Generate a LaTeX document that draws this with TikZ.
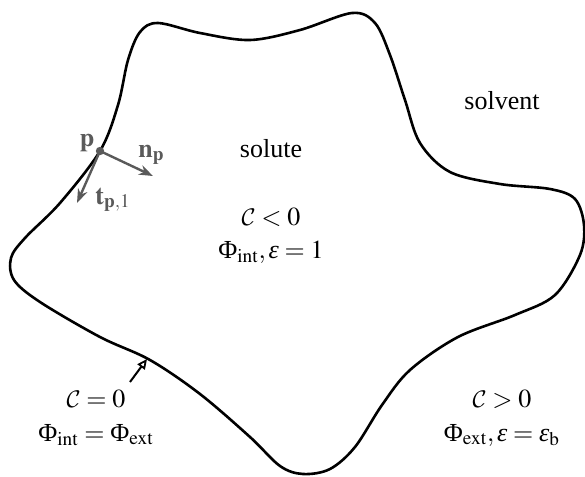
\documentclass[tikz,border=0pt]{standalone}
\usepackage{mathptmx}
\usepackage[no-math]{fontspec}
\setmainfont{Liberation Serif}
\DeclareMathAlphabet{\mathcal}{OMS}{cmsy}{m}{n}
\newcommand{\veps}{\mbox{\itshape ε}}
\newcommand{\bigphi}{\mbox{\upshape Φ}}
\usetikzlibrary{arrows.meta}
\definecolor{vecgray}{HTML}{5A5A5A}
\tikzset{
  lbl/.style={anchor=base, inner sep=0pt, font=\fontsize{13}{15.6}\selectfont},
  vlbl/.style={anchor=base west, inner sep=0pt, text=vecgray, font=\fontsize{13}{15.6}\selectfont},
  vecarrow/.style={draw=vecgray, line width=1.2pt, -{Stealth[length=7pt,width=5pt]}},
  boundary/.style={draw=black, line width=1.3pt},
  pointer/.style={draw=black, line width=1pt, -{Triangle[open,length=5pt,width=4.5pt,line width=0.9pt]}}
}
\begin{document}
\begin{tikzpicture}[x=0.5pt,y=-0.5pt]
\useasboundingbox (0,0) rectangle (585,477);
% boundary curve
\draw[boundary] plot[smooth cycle, tension=0.55] coordinates {
(100,151) (118,105) (128,60) (140,32) (158,23) (200,33) (250,40) (300,30)
(352,13) (375,23) (390,55) (405,100) (420,143) (450,172) (500,184) (550,189)
(575,199) (584,225) (580,255) (555,295) (515,315) (458,337) (410,370) (382,405)
(355,447) (330,469) (303,474) (280,466) (250,437) (200,394) (150,360) (100,337)
(40,302) (14,280) (11,258) (25,238) (60,203)};
% point p with normal and tangent
\coordinate (p) at (100,151);
\coordinate (ntip) at (153,176);
\coordinate (ttip) at (77,203);
\draw[vecarrow] (p) -- (ntip);
\draw[vecarrow] (p) -- (ttip);
\fill[vecgray] (p) circle (4.2);
\node[lbl, text=vecgray] (plabel) at (87,146) {$\mathbf{p}$};
\node[vlbl] (nlabel) at (138,157) {$\mathbf{n}_{\mathbf{p}}$};
\node[vlbl] (tlabel) at (95,204) {$\mathbf{t}_{\mathbf{p},1}$};
% region labels
\node[lbl] (solvent) at (502,109) {solvent};
\node[lbl] (solute) at (271,157) {solute};
\node[lbl] (cin) at (271,225) {$\mathcal{C}<0$};
\node[lbl] (phiin) at (271,258) {$\bigphi_{\mathrm{int}},\veps=1$};
\node[lbl] (czero) at (96,407) {$\mathcal{C}=0$};
\node[lbl] (phiz) at (96,441) {$\bigphi_{\mathrm{int}}=\bigphi_{\mathrm{ext}}$};
\node[lbl] (cout) at (502,407) {$\mathcal{C}>0$};
\node[lbl] (phiout) at (502,441) {$\bigphi_{\mathrm{ext}},\veps=\veps_{\mathrm{b}}$};
% pointer to the boundary
\coordinate (ptail) at (130,382);
\coordinate (ptip) at (147,359);
\draw[pointer] (ptail) -- (ptip);
\end{tikzpicture}
\end{document}
